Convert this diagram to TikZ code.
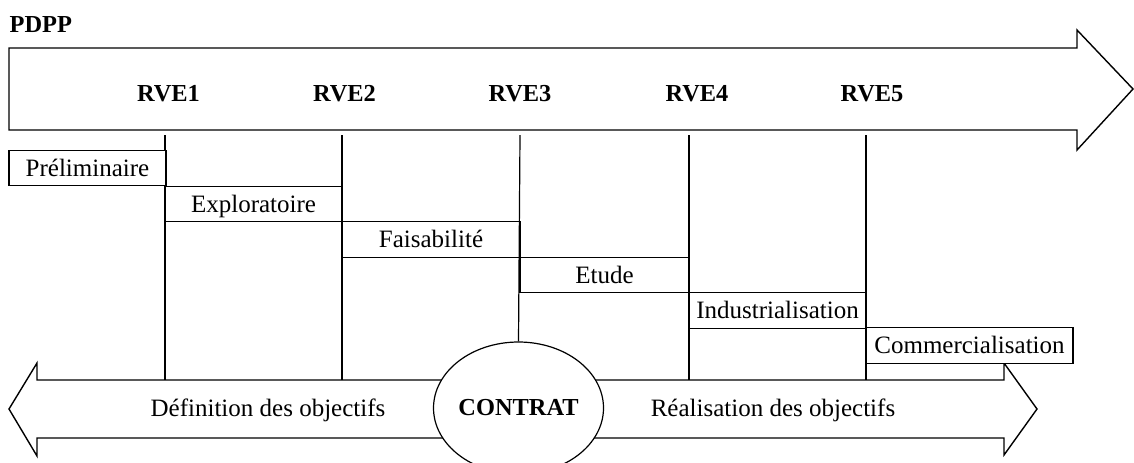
\documentclass[tikz,border=0pt]{standalone}
\usepackage{fontspec}
\setmainfont{Liberation Serif}
\usetikzlibrary{shapes.geometric}
\begin{document}
\begin{tikzpicture}[x=0.5pt,y=-0.5pt,line width=0.6pt,
  outline/.style={draw=black,line width=0.7pt,line join=miter},
  phasebox/.style={draw,fill=white,inner sep=0pt,minimum height=17.75pt,
    text height=11pt,text depth=2.8pt,font=\fontsize{12.5}{14}\selectfont},
  rvelabel/.style={font=\fontsize{12.2}{14}\selectfont\bfseries,anchor=base,inner sep=0pt},
  goallabel/.style={font=\fontsize{12.5}{15}\selectfont,anchor=base,inner sep=0pt},
  milestone/.style={draw=black,line width=0.6pt},
  contratshape/.style={ellipse,draw,fill=white,inner sep=0pt,minimum width=84pt,
    minimum height=66pt,font=\fontsize{12.2}{14}\selectfont\bfseries}]
\useasboundingbox (0,0) rectangle (1134,462);
\clip (0,0) rectangle (1134,462);

% title
\node[font=\fontsize{12.2}{14}\selectfont\bfseries,anchor=base west,inner sep=0pt] (pdpp) at (9,32) {PDPP};

% top arrow
\draw[outline] (9,48) -- (1077,48) -- (1077,30) -- (1133,89) -- (1077,150)
  -- (1077,130) -- (9,130) -- cycle;

% RVE labels
\node[rvelabel] (rve1) at (168.5,101.7) {RVE1};
\node[rvelabel] (rve2) at (344.5,101.7) {RVE2};
\node[rvelabel] (rve3) at (520,101.7) {RVE3};
\node[rvelabel] (rve4) at (697,101.7) {RVE4};
\node[rvelabel] (rve5) at (872,101.7) {RVE5};

% bottom double arrow
\draw[outline] (37,380) -- (1004,380) -- (1004,363) -- (1037,409) -- (1004,455)
  -- (1004,438) -- (37,438) -- (37,456) -- (9,409) -- (37,363) -- cycle;

% milestone lines
\coordinate (t1) at (165,135);  \coordinate (b1) at (165,380);
\coordinate (t2) at (342,135);  \coordinate (b2) at (342,380);
\coordinate (t3) at (520,135);
\coordinate (t4) at (689,135);  \coordinate (b4) at (689,380);
\coordinate (t5) at (866,135);  \coordinate (b5) at (866,380);
\draw[milestone] (t1) -- (b1);
\draw[milestone] (t2) -- (b2);
\draw[milestone] (t4) -- (b4);
\draw[milestone] (t5) -- (b5);

% phases
\node[phasebox,minimum width=78.5pt] (prel) at (87.5,168) {Préliminaire};
\node[phasebox,minimum width=88.5pt] (expl) at (253.5,204) {Exploratoire};
\node[phasebox,minimum width=89pt] (fais) at (431,239.5) {Faisabilité};
\node[phasebox,minimum width=84.5pt] (etude) at (604.5,275) {Etude};
\node[phasebox,minimum width=88.5pt] (indus) at (777.5,310.5) {Industrialisation};
\node[phasebox,minimum width=103.5pt] (comm) at (969.5,345.5) {Commercialisation};

% contract
\node[contratshape] (contrat) at (518.5,408) {CONTRAT};
\draw[milestone] (t3) -- (contrat.north);

% goals
\node[goallabel] (defobj) at (268,416.7) {Définition des objectifs};
\node[goallabel] (realobj) at (773,416.7) {Réalisation des objectifs};
\end{tikzpicture}
\end{document}
